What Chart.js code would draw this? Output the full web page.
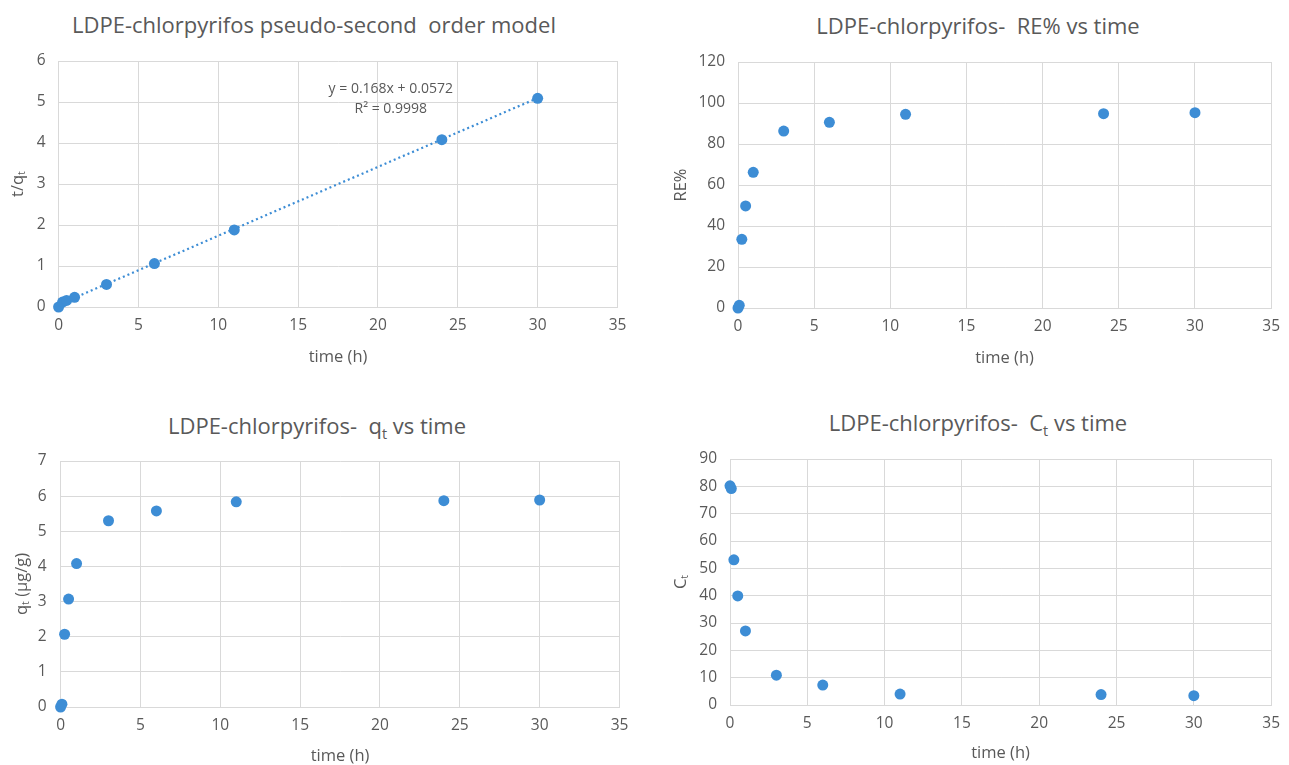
<!DOCTYPE html>
<html>
<head>
<meta charset="utf-8">
<script src="https://cdn.jsdelivr.net/npm/chart.js@4.4.1/dist/chart.umd.min.js"></script>
<style>
  body { margin: 0; background: #fff; width: 1289px; height: 765px; position: relative; overflow: hidden; font-family: "Open Sans", sans-serif; }
  .box { position: absolute; }
  .ttl { position: absolute; transform: translate(-50%, -50%); white-space: nowrap; color: #595959; font-size: 22px; }
  .ttl sub { font-size: 65%; vertical-align: -0.35em; line-height: 0; }
</style>
</head>
<body>
<div class="ttl" style="left:314px;top:24px">LDPE-chlorpyrifos pseudo-second&nbsp; order model</div>
<div class="ttl" style="left:978px;top:25px">LDPE-chlorpyrifos-&nbsp; RE% vs time</div>
<div class="ttl" style="left:317px;top:425px">LDPE-chlorpyrifos-&nbsp; q<sub>t</sub> vs time</div>
<div class="ttl" style="left:978px;top:422px">LDPE-chlorpyrifos-&nbsp; C<sub>t</sub> vs time</div>

<div class="box" style="left:0;top:0;width:640px;height:380px"><canvas id="c1"></canvas></div>
<div class="box" style="left:640px;top:0;width:649px;height:380px"><canvas id="c2"></canvas></div>
<div class="box" style="left:0;top:400px;width:640px;height:365px"><canvas id="c3"></canvas></div>
<div class="box" style="left:640px;top:400px;width:649px;height:365px"><canvas id="c4"></canvas></div>

<script>
// t/qt vs time (pseudo-second order)
const psoTime = [0, 0.25, 0.5, 1, 3, 6, 11, 24, 30];
const psoVal = [0, 0.12, 0.16, 0.235, 0.55, 1.06, 1.88, 4.08, 5.09];
const psoFitX = [0, 30];
const psoFitY = [0.0572, 5.0972];
const psoEquation = ['y = 0.168x + 0.0572', 'R\u00b2 = 0.9998'];

// RE%, qt, Ct vs time
const sampleTime = [0, 0.083, 0.25, 0.5, 1, 3, 6, 11, 24, 30];
const reVal = [0, 1.3, 33.5, 49.8, 66.2, 86.3, 90.6, 94.5, 94.8, 95.3];
const qtVal = [0, 0.08, 2.07, 3.07, 4.08, 5.3, 5.58, 5.84, 5.87, 5.89];
const ctVal = [80.2, 79.2, 53.1, 39.9, 27.1, 10.9, 7.3, 4.0, 3.8, 3.4];

const BLUE = '#3d8dd5';
const GRID = '#d9d9d9';
const TEXT = '#595959';
const FONT = '"Open Sans", sans-serif';

function pts(xs, ys) {
  return xs.map((x, i) => ({ x: x, y: ys[i] }));
}

function scatter(id, g, datasets, yMax, yStep, yTitle, plugins) {
  return new Chart(document.getElementById(id), {
    type: 'scatter',
    data: { datasets: datasets },
    plugins: plugins || [],
    options: {
      responsive: true,
      maintainAspectRatio: false,
      animation: false,
      layout: { padding: { left: 0, right: g.w - g.right, top: g.top, bottom: 0 } },
      plugins: { legend: { display: false }, tooltip: { enabled: false }, title: { display: false } },
      scales: {
        x: {
          type: 'linear',
          min: 0,
          max: 35,
          ticks: { stepSize: 5, color: TEXT, font: { family: FONT, size: 15.5 }, padding: 9 },
          grid: { color: GRID, lineWidth: 1, drawTicks: false },
          border: { color: GRID },
          title: { display: true, text: 'time (h)', color: TEXT, font: { family: FONT, size: 16.5 }, padding: { top: 0, bottom: g.xTitle - 10 } },
          afterFit(s) { s.height = g.h - g.bottom; },
        },
        y: {
          min: 0,
          max: yMax,
          ticks: { stepSize: yStep, color: TEXT, font: { family: FONT, size: 15.5 }, padding: g.tickPad },
          grid: { color: GRID, lineWidth: 1, drawTicks: false },
          border: { color: GRID },
          title: { display: true, text: yTitle, color: TEXT, font: { family: FONT, size: 16.5 }, padding: { top: g.yTitle - 10, bottom: 0 } },
          afterFit(s) { s.width = g.left; },
        },
      },
    },
  });
}

function dots(xs, ys) {
  return {
    data: pts(xs, ys),
    pointRadius: 5.5,
    pointBackgroundColor: BLUE,
    pointBorderWidth: 0,
    showLine: false,
    clip: false,
    order: 0,
  };
}

const equationLabel = {
  id: 'equationLabel',
  afterDatasetsDraw(chart) {
    const c = chart.ctx;
    const x = chart.scales.x.getPixelForValue(20.8);
    const y = chart.scales.y.getPixelForValue(5.32);
    c.save();
    c.fillStyle = TEXT;
    c.font = '14px ' + FONT;
    c.textAlign = 'center';
    c.textBaseline = 'middle';
    c.fillText(psoEquation[0], x, y);
    c.fillText(psoEquation[1], x, y + 20);
    c.restore();
  }
};

scatter('c1', { w: 640, h: 380, left: 58.6, right: 617.5, top: 61, bottom: 307, tickPad: 13, xTitle: 23, yTitle: 18 }, [
  dots(psoTime, psoVal),
  {
    data: pts(psoFitX, psoFitY),
    showLine: true,
    pointRadius: 0,
    borderColor: BLUE,
    borderWidth: 2.2,
    borderDash: [2, 3],
    order: 1,
  },
], 6, 1, 't/q\u209c', [equationLabel]);

scatter('c2', { w: 649, h: 380, left: 98, right: 639, top: 62, bottom: 308, tickPad: 13, xTitle: 22, yTitle: 41 },
  [dots(sampleTime, reVal)], 120, 20, 'RE%');

scatter('c3', { w: 640, h: 365, left: 60.6, right: 619.5, top: 61, bottom: 307, tickPad: 14, xTitle: 9, yTitle: 22 },
  [dots(sampleTime, qtVal)], 7, 1, 'q\u209c (\u00b5g/g)');

scatter('c4', { w: 649, h: 365, left: 90, right: 639, top: 59, bottom: 305, tickPad: 13, xTitle: 12, yTitle: 41 },
  [dots(sampleTime, ctVal)], 90, 10, 'C\u209c');
</script>
</body>
</html>
